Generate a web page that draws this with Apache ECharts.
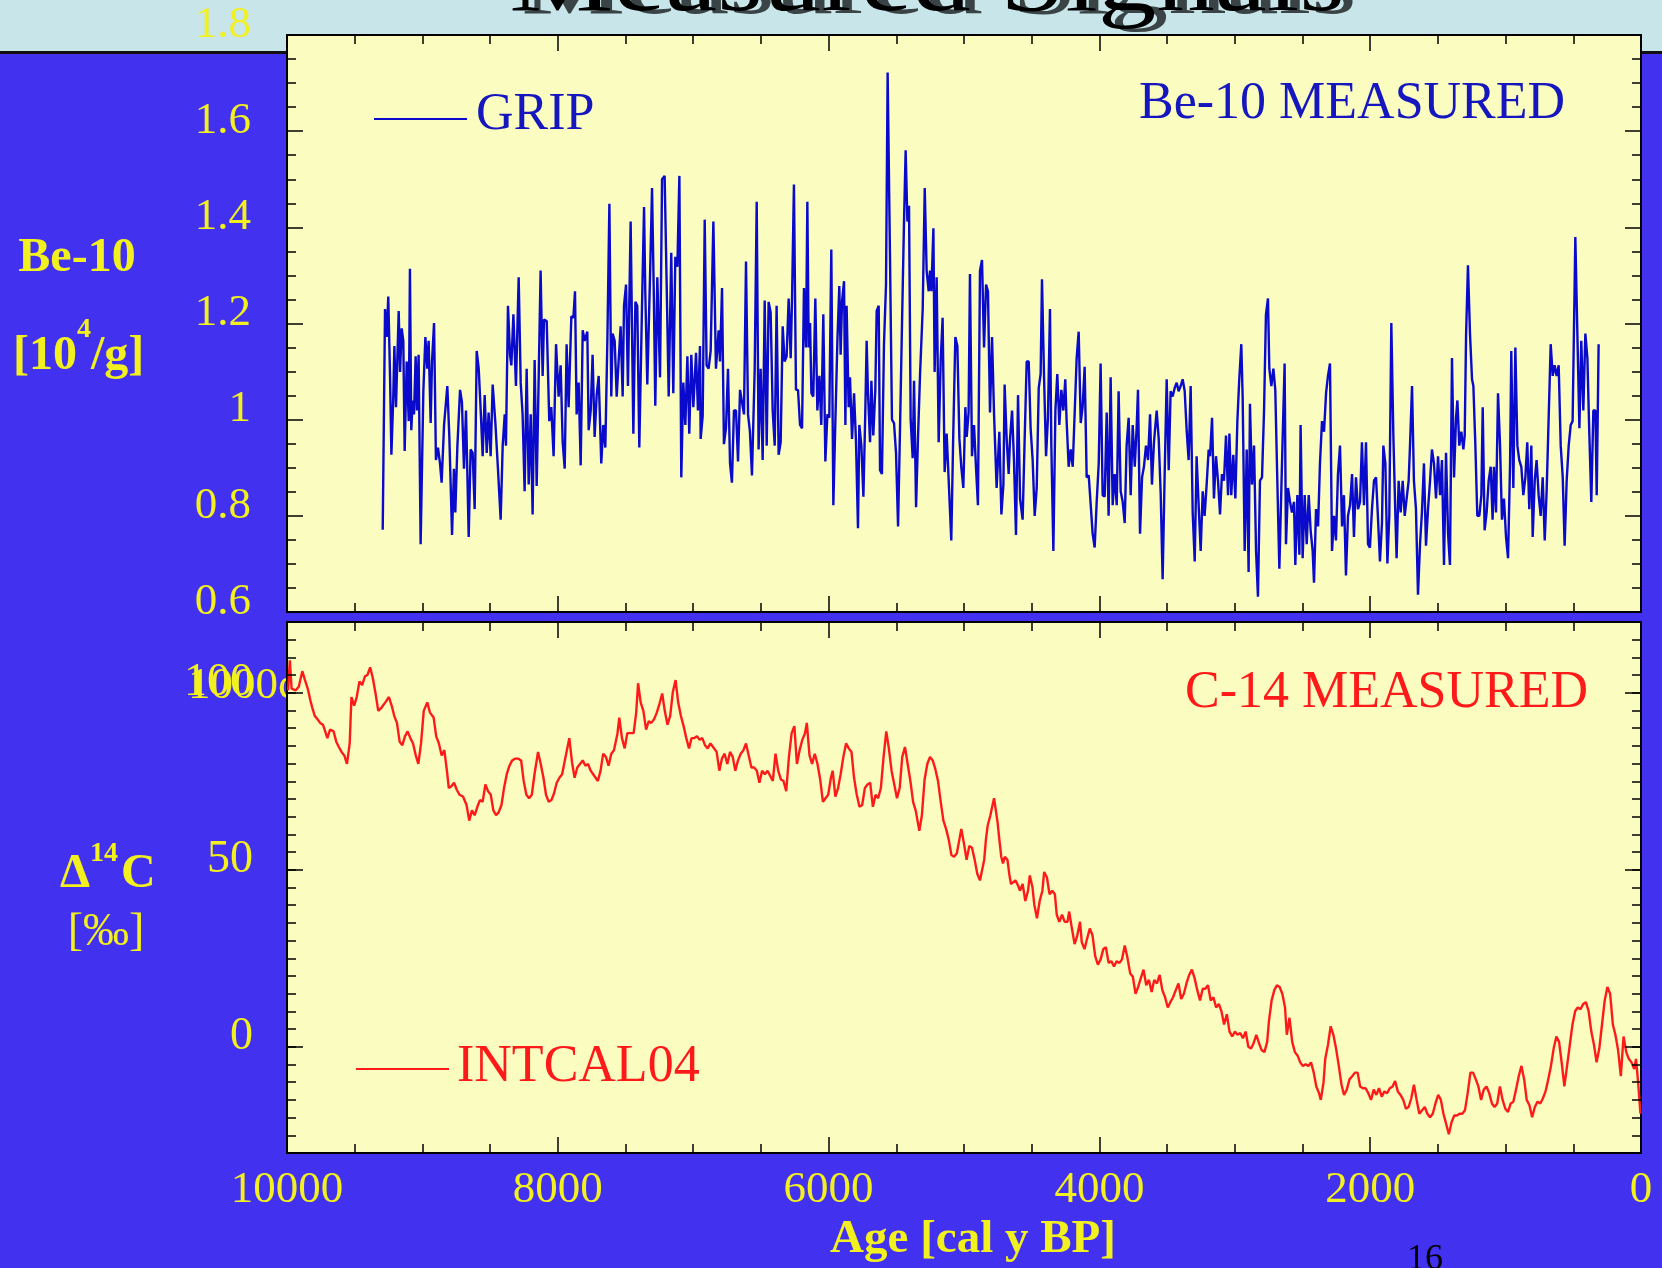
<!DOCTYPE html>
<html><head><meta charset="utf-8">
<script src="https://cdn.jsdelivr.net/npm/echarts@6/dist/echarts.min.js"></script>
<style>html,body{margin:0;padding:0;background:#4232F0;overflow:hidden}#c{width:1662px;height:1268px}</style>
</head><body><div id="c"></div>
<script>
// ---- DATA ----
const xTickValues = [10000, 8000, 6000, 4000, 2000, 0];
const be10Ticks = [0.6, 0.8, 1, 1.2, 1.4, 1.6, 1.8];
const c14Ticks = [0, 50, 100];

// GRIP Be-10 [age BP, 10^4/g]
const be10 = [
[9293,.771],[9276,1.230],[9264,1.172],[9252,1.256],[9239,1.091],[9229,.927],[9215,1.048],[9207,1.153],[9195,1.026],[9175,1.226],
[9165,1.099],[9153,1.190],[9141,1.164],[9131,.935],[9116,1.121],[9101,.997],[9092,1.314],[9082,.978],[9072,1.040],[9062,1.011],
[9050,1.132],[9040,1.019],[9028,1.135],[9013,.741],[8993,1.059],[8978,1.172],[8964,1.106],[8954,1.164],[8939,.993],[8929,1.121],
[8914,1.201],[8900,.916],[8885,.942],[8870,.909],[8858,.869],[8840,.989],[8816,1.070],[8801,.964],[8781,.760],[8767,.898],
[8757,.807],[8742,.942],[8722,1.062],[8708,1.037],[8693,.898],[8678,1.019],[8658,.756],[8644,.938],[8629,.931],[8614,.814],
[8599,1.143],[8584,1.106],[8567,1.004],[8555,.924],[8540,1.051],[8525,.931],[8511,1.015],[8496,.924],[8481,1.073],[8461,.993],
[8442,.898],[8422,.792],[8407,.946],[8392,1.011],[8383,.946],[8368,1.237],[8353,1.135],[8343,1.113],[8328,1.219],[8309,1.070],
[8289,1.296],[8274,1.077],[8260,1.011],[8245,.851],[8230,1.106],[8215,.865],[8200,1.011],[8186,.803],[8171,1.124],[8156,.862],
[8141,1.091],[8127,1.310],[8112,1.091],[8102,1.208],[8082,1.205],[8063,.997],[8048,1.026],[8031,.924],[8013,1.157],[7994,1.048],
[7979,1.113],[7964,.953],[7949,.898],[7935,1.157],[7920,1.026],[7900,1.215],[7885,1.212],[7873,1.267],[7861,1.011],[7846,1.077],
[7831,.905],[7816,1.186],[7802,1.164],[7782,1.183],[7772,.978],[7757,1.019],[7743,1.135],[7728,.964],[7713,1.051],[7698,1.091],
[7679,.909],[7664,.989],[7649,.942],[7634,1.164],[7619,1.449],[7605,1.048],[7595,1.179],[7580,1.164],[7565,1.048],[7551,1.121],
[7536,1.194],[7521,1.048],[7511,1.237],[7496,1.281],[7482,1.070],[7462,1.412],[7442,.971],[7427,1.245],[7413,1.237],[7398,.942],
[7378,1.237],[7363,1.442],[7354,1.267],[7339,1.073],[7319,1.296],[7304,1.482],[7290,1.245],[7280,1.029],[7265,1.296],[7245,1.088],
[7230,1.500],[7211,1.507],[7196,1.281],[7181,1.048],[7162,1.347],[7147,1.055],[7132,1.339],[7117,1.318],[7102,1.507],[7088,.880],
[7073,1.077],[7058,.989],[7043,1.132],[7029,.971],[7014,1.135],[6999,1.026],[6979,1.139],[6965,1.019],[6950,1.153],[6945,.960],
[6930,1.008],[6915,1.416],[6901,1.113],[6886,1.106],[6871,1.143],[6851,1.412],[6832,1.106],[6812,1.186],[6802,1.121],[6787,1.274],
[6773,.949],[6758,.982],[6743,1.106],[6728,.909],[6714,.869],[6699,1.019],[6684,1.019],[6669,.913],[6654,1.062],[6640,1.066],
[6625,1.011],[6610,1.329],[6595,1.011],[6581,.975],[6566,.884],[6556,.884],[6546,1.102],[6531,1.453],[6517,.938],[6502,1.106],
[6487,.916],[6472,1.248],[6457,.946],[6443,1.245],[6428,1.223],[6413,1.019],[6398,.946],[6384,1.237],[6369,.927],[6354,.953],
[6339,1.194],[6325,1.121],[6310,1.132],[6295,1.252],[6280,1.128],[6270,1.252],[6256,1.489],
[6241,1.062],[6226,1.062],[6211,.989],[6196,.982],[6182,1.274],[6167,1.150],[6157,1.453],[6147,1.150],[6137,1.201],[6127,1.055],
[6113,1.048],[6098,1.252],[6083,1.019],[6068,1.091],[6054,.989],[6039,1.219],[6024,.913],[6009,1.011],[5995,1.004],[5980,1.354],
[5965,.822],[5950,.997],[5935,1.164],[5921,1.278],[5911,1.135],[5901,1.245],[5886,1.288],[5876,.989],[5867,1.237],[5852,1.026],
[5842,1.088],[5827,.960],[5812,1.055],[5798,.957],[5783,.774],[5773,.989],[5758,.946],[5743,.840],[5729,1.015],[5719,1.164],
[5709,1.055],[5694,.953],[5684,1.081],[5670,.967],[5655,1.062],[5645,1.226],[5630,1.237],[5620,.895],[5606,.887],[5591,1.157],
[5576,1.281],[5564,1.722],[5546,1.325],[5532,1.000],[5517,.993],[5502,.931],[5487,.778],[5473,.975],[5458,1.197],[5443,1.412],
[5431,1.560],[5418,1.412],[5406,1.445],[5394,1.000],[5379,.920],[5369,1.081],[5354,.818],[5340,.960],[5325,1.091],[5305,1.230],
[5290,1.482],[5276,1.310],[5261,1.267],[5251,1.310],[5241,1.267],[5226,1.398],[5217,1.099],[5202,1.296],[5187,.953],[5172,1.124],
[5158,1.212],[5143,.891],[5128,.971],[5113,.873],[5094,.749],[5079,.975],[5064,1.172],[5049,1.153],[5034,.960],[5020,.902],
[5005,.858],[4990,1.026],[4980,.964],[4966,1.015],[4956,1.303],[4941,.924],[4926,.989],[4911,.898],[4897,.822],[4882,1.310],
[4867,1.332],[4852,1.150],[4837,1.281],[4823,1.267],[4808,1.015],[4793,1.172],[4778,1.011],[4759,.858],[4739,.975],[4724,.803],
[4709,.865],[4700,1.073],[4685,.960],[4670,.887],[4660,.960],[4645,1.019],[4631,.916],[4616,.760],[4601,1.051],[4586,.836],
[4567,.792],[4552,.960],[4537,1.121],[4522,1.121],[4508,.982],[4493,.916],[4478,.800],[4463,.858],[4448,1.066],[4434,1.095],
[4424,1.292],[4409,1.091],[4394,.924],[4380,1.004],[4365,1.230],[4355,.946],[4340,.727],[4325,1.019],[4311,1.095],[4296,.989],
[4281,1.062],[4266,1.019],[4252,1.084],[4242,.997],[4227,.902],[4212,.938],[4197,.902],[4183,1.011],[4168,1.128],[4153,1.183],
[4138,.993],[4124,1.026],[4109,1.110],[4094,.880],[4079,.884],[4064,.822],[4050,.763],[4035,.734],[4020,.829],[4005,.909],
[3991,1.117],[3976,.843],[3961,.840],[3946,1.015],[3932,.800],[3917,1.088],[3902,.822],[3887,.887],[3872,.822],[3858,1.059],
[3843,.851],[3828,.829],[3813,.785],[3799,.946],[3784,1.004],[3769,.843],[3754,.989],[3739,.902],[3725,.982],[3715,1.062],
[3700,.763],[3685,.880],[3671,.902],[3656,.946],[3641,.916],[3626,1.011],[3612,.865],[3597,.953],[3577,1.019],[3562,.960],
[3547,.843],[3533,.668],[3518,.887],[3503,1.084],[3488,.895],[3474,1.059],[3459,1.048],[3444,1.066],[3429,1.077],[3415,1.059],
[3400,1.070],[3385,1.084],[3370,1.059],[3355,.975],[3341,.916],[3326,1.070],[3311,.807],[3296,.705],[3282,.924],[3267,.822],
[3252,.727],[3237,.851],[3223,.800],[3208,.865],[3193,.938],
[3183,.924],[3168,1.004],[3154,.836],[3139,.924],[3124,.873],[3109,.803],[3095,.887],[3080,.873],[3065,.967],[3050,.843],
[3040,.971],[3026,.843],[3011,.927],[2996,.836],[2981,.997],[2967,1.084],[2952,1.157],[2942,1.048],[2927,.727],[2912,.938],
[2898,.683],[2888,1.033],[2873,.865],[2858,.946],[2843,.727],[2829,.632],[2814,.873],[2799,.880],[2784,1.019],[2770,1.219],
[2755,1.252],[2745,1.106],[2730,1.070],[2715,1.106],[2701,1.062],[2686,.873],[2671,.690],[2656,.858],[2642,1.011],[2632,1.117],
[2622,.741],[2607,.858],[2592,.829],[2578,.807],[2563,.829],[2553,.698],[2538,.843],[2523,.719],[2514,.989],[2499,.712],
[2484,.843],[2469,.741],[2454,.843],[2440,.770],[2425,.727],[2415,.661],[2400,.814],[2385,.778],[2371,.909],[2356,.997],
[2341,.975],[2326,1.055],[2312,1.091],[2297,1.117],[2282,.727],[2267,.800],[2253,.749],[2238,.887],[2223,.946],[2208,.778],
[2194,.843],[2179,.676],[2164,.800],[2149,.822],[2134,.887],[2120,.756],[2105,.880],[2090,.814],[2075,.829],[2061,.953],
[2046,.822],[2031,.953],[2016,.741],[2002,.734],[1987,.814],[1972,.873],[1957,.880],[1942,.792],[1928,.705],[1913,.785],
[1903,.946],[1888,.909],[1873,.701],[1859,.800],[1844,1.201],[1829,.967],[1814,.800],[1805,.712],[1790,.873],[1775,.807],
[1760,.873],[1745,.800],[1731,.836],[1716,.873],[1706,.946],[1691,1.070],[1677,.873],[1662,.814],[1647,.636],[1632,.741],
[1618,.807],[1603,.909],[1588,.738],[1573,.814],[1558,.873],[1544,.938],[1529,.909],[1514,.836],[1499,.924],[1484,.843],
[1470,.916],[1455,.698],[1440,.931],[1425,.763],[1411,.698],[1396,1.128],[1381,.880],[1366,1.004],[1356,1.040],[1342,.946],
[1327,.975],[1312,.938],[1302,.967],[1292,1.175],[1278,1.321],[1263,1.179],[1248,1.084],[1238,1.070],[1224,.953],[1209,.800],
[1194,.800],[1179,.843],[1169,1.026],[1155,.770],[1140,.807],[1125,.873],[1110,.902],[1096,.792],[1086,.902],[1071,.807],
[1056,1.055],[1041,.946],[1027,.792],[1012,.836],[997,.756],[982,.712],[967,.909],[958,1.143],[943,.858],[928,1.150],
[913,.946],[899,.916],[884,.902],[869,.843],[854,.880],[840,.953],[825,.814],[810,.946],[800,.756],[785,.873],
[771,.916],[756,.843],[741,.800],[726,.880],[711,.749],[697,.851],[682,1.004],[667,1.157],[652,1.091],[638,1.113],
[623,1.091],[608,1.113],[593,.946],[578,.880],[564,.738],[549,.873],[534,.946],[519,.989],[505,.997],[485,1.380],
[470,1.179],[455,.982],[441,1.164],[426,1.019],[411,1.179],[396,1.128],[382,.975],[367,.829],[352,1.019],[337,1.019],
[327,.843],[313,1.157]
];

// INTCAL04 Delta-14C [age BP, permil]
const c14 = [
[9992,100.7],[9979,109.2],[9966,101.2],[9936,100.7],[9913,101.7],[9887,106.1],[9867,103.6],[9847,101.2],[9827,97.8],[9814,95.9],
[9795,93.5],[9775,92.5],[9755,91.5],[9735,91.0],[9722,89.6],[9702,87.2],[9682,89.6],[9656,89.1],[9636,86.2],[9617,84.7],
[9597,83.3],[9577,82.3],[9557,79.9],[9537,85.7],[9524,98.8],[9504,96.4],[9485,98.8],[9465,103.2],[9445,102.2],[9425,104.6],
[9405,105.1],[9386,107.2],[9366,104.1],[9346,99.8],[9326,94.9],[9300,95.9],[9274,97.3],[9247,98.8],[9227,96.4],[9208,93.5],
[9188,91.5],[9168,86.2],[9148,85.2],[9129,87.7],[9109,89.1],[9089,87.2],[9069,85.7],[9049,82.3],[9030,79.9],[9010,85.7],
[8990,94.9],[8964,97.3],[8944,94.4],[8917,93.0],[8898,87.7],[8878,85.7],[8858,82.3],[8838,83.8],[8819,78.0],[8805,73.1],
[8786,73.6],[8766,74.6],[8746,72.6],[8726,71.2],[8700,70.7],[8674,68.3],[8654,63.9],[8634,66.8],[8614,65.4],[8594,67.8],
[8575,69.7],[8555,69.2],[8535,74.1],[8515,72.2],[8495,71.2],[8476,66.8],[8456,65.4],[8436,66.3],[8416,68.3],[8397,73.1],
[8377,77.0],[8357,79.4],[8337,80.9],[8317,81.4],[8291,81.4],[8271,80.9],[8252,75.1],[8232,71.2],[8212,70.2],[8192,71.2],
[8172,77.0],[8146,83.3],[8126,79.9],[8106,76.0],[8087,71.2],[8067,69.2],[8047,69.7],[8027,71.7],[8008,74.6],[7988,76.0],
[7968,77.0],[7948,80.9],[7928,84.7],[7915,87.2],[7895,80.4],[7876,76.0],[7856,78.9],[7836,79.9],[7816,80.9],[7796,79.4],
[7777,79.9],[7757,78.0],[7730,76.5],[7704,75.1],[7684,78.0],[7665,82.8],[7645,81.9],[7625,79.4],[7605,82.8],[7585,83.8],
[7559,88.6],[7546,93.0],[7526,87.2],[7506,84.3],[7487,88.6],[7460,88.6],[7440,88.6],[7421,94.4],[7407,102.7],[7388,97.3],
[7368,94.9],[7348,89.6],[7328,92.0],[7309,91.5],[7289,92.5],[7269,94.4],[7249,96.9],[7229,99.8],[7210,94.9],[7190,91.0],
[7170,93.5],[7150,100.3],[7130,103.6],[7111,97.3],[7091,93.5],[7071,90.6],[7051,87.2],[7031,84.3],[7012,87.2],[6992,87.2],
[6972,87.7],[6952,86.7],[6933,87.2],[6913,85.2],[6893,84.3],[6873,85.7],[6853,84.7],[6827,83.3],[6807,78.0],[6788,81.4],
[6768,82.8],[6748,79.9],[6728,83.3],[6708,81.9],[6689,78.0],[6669,80.9],[6649,82.8],[6629,83.8],[6610,85.7],[6590,82.3],
[6570,78.9],[6550,78.9],[6530,78.0],[6511,74.6],[6491,78.0],[6471,77.0],[6451,78.0],[6431,76.5],[6412,75.1],[6392,82.8],
[6372,78.0],[6352,75.5],[6333,75.1],[6313,72.2],[6293,81.9],[6273,88.6],[6253,90.6],[6234,79.9],[6214,83.8],[6194,86.7],
[6174,88.6],[6161,91.5],[6141,82.3],[6122,79.9],[6102,82.8],[6082,79.9],[6062,75.5],[6042,69.2],[6023,70.2],[6003,71.2],
[5983,76.0],[5970,78.0],[5950,70.7],[5930,73.1],[5911,77.0],[5891,81.9],[5871,85.7],[5851,84.3],[5831,83.3],[5812,76.0],
[5792,71.2],[5772,67.8],[5752,68.3],[5732,73.1],[5713,74.1],[5693,74.6],[5673,67.8],[5653,71.2],[5634,70.2],[5614,73.1],
[5594,81.9],[5574,89.1],[5555,84.3],[5535,78.0],[5515,74.1],[5495,70.2],[5475,73.1],[5456,81.9],[5436,84.7],[5416,79.9],
[5396,75.1],[5376,69.2],[5357,66.8],[5330,61.0],[5311,65.4],[5291,75.5],[5271,79.9],[5251,81.9],[5231,80.9],[5212,78.5],
[5192,75.1],[5172,69.2],[5152,63.9],[5132,61.5],[5113,58.6],[5093,54.2],[5073,53.7],[5053,54.7],[5034,58.6],[5020,61.5],
[5001,57.6],[4981,52.8],[4961,56.7],[4941,56.2],[4921,52.8],[4902,48.9],[4882,47.0],
[4851,52.8],[4838,58.6],[4825,62.5],[4805,65.4],[4792,67.8],[4778,70.2],[4765,70.7],[4752,63.4],[4739,58.6],[4725,53.7],
[4712,51.8],[4699,53.7],[4679,52.8],[4666,48.9],[4653,46.0],[4639,46.0],[4620,47.0],[4600,45.5],[4587,44.1],[4567,46.0],
[4547,41.2],[4527,44.1],[4514,48.4],[4494,45.0],[4481,40.2],[4461,36.3],[4441,41.2],[4421,44.1],[4408,49.4],[4388,47.9],
[4368,43.1],[4348,44.1],[4329,43.1],[4315,37.3],[4296,35.3],[4276,37.3],[4256,35.3],[4236,35.3],[4223,38.2],[4203,33.4],
[4183,29.0],[4163,31.5],[4143,35.3],[4130,29.5],[4110,27.6],[4091,30.5],[4071,33.4],[4051,31.5],[4031,25.6],[4011,23.2],
[3991,24.7],[3971,27.6],[3952,28.1],[3932,23.7],[3912,24.2],[3892,22.7],[3872,24.2],[3852,23.7],[3833,24.7],[3813,28.6],
[3793,25.2],[3773,20.8],[3753,19.8],[3733,15.0],[3714,16.9],[3694,19.4],[3674,21.8],[3654,17.4],[3634,18.9],[3614,15.5],
[3595,18.9],[3575,17.9],[3555,20.3],[3535,16.0],[3515,14.0],[3495,11.1],[3476,12.6],[3456,14.0],[3436,16.0],[3416,17.9],
[3396,13.5],[3376,15.0],[3357,17.9],[3337,20.3],[3317,21.8],[3297,19.4],[3277,16.0],[3257,13.1],[3237,16.4],[3218,16.4],
[3198,17.4],[3178,13.1],[3158,14.0],[3138,11.1],[3118,12.1],[3099,10.1],[3079,6.3],[3059,9.2],[3039,4.3],[3019,2.9],
[2999,4.3],[2980,3.4],[2960,3.9],[2940,2.4],[2920,4.3],[2900,0.0],[2880,-0.5],[2861,1.0],[2841,3.4],[2821,1.0],
[2801,-1.0],[2781,-1.5],[2761,1.4],[2748,7.2],[2728,13.1],[2708,16.0],[2689,17.4],[2669,16.9],[2649,15.0],[2629,11.1],
[2616,3.4],[2596,8.2],[2576,1.4],[2556,-1.5],[2536,-2.5],[2517,-4.4],[2497,-5.4],[2477,-4.9],[2457,-5.4],[2437,-4.4],
[2417,-7.3],[2398,-11.2],[2378,-13.1],[2365,-15.0],[2345,-10.2],[2332,-3.4],[2312,0.5],[2292,5.8],[2272,3.4],[2252,-0.5],
[2232,-5.4],[2212,-10.7],[2193,-13.6],[2173,-12.1],[2153,-9.2],[2133,-8.3],[2113,-7.3],[2093,-7.3],[2074,-11.2],[2054,-11.7],
[2034,-11.7],[2014,-13.1],[1994,-15.0],[1974,-12.1],[1954,-13.6],[1935,-11.7],[1915,-14.1],[1895,-12.6],[1875,-13.1],[1855,-11.7],
[1835,-11.2],[1816,-9.7],[1796,-12.6],[1776,-13.6],[1756,-15.0],[1736,-17.5],[1716,-17.0],[1697,-14.6],[1677,-10.7],[1657,-15.0],
[1637,-18.9],[1617,-17.9],[1597,-17.0],[1578,-18.9],[1558,-19.9],[1538,-18.9],[1518,-16.0],[1498,-13.6],[1478,-15.0],[1459,-18.9],
[1439,-21.8],[1419,-24.7],[1399,-21.3],[1379,-19.4],[1359,-19.4],[1340,-18.9],[1320,-18.9],[1300,-17.9],[1280,-13.1],[1260,-7.3],
[1240,-7.3],[1220,-9.2],[1201,-11.2],[1181,-15.0],[1161,-12.1],[1141,-11.2],[1121,-13.1],[1101,-16.0],[1082,-17.0],[1062,-16.0],
[1042,-11.2],[1022,-15.0],[1002,-17.5],[982,-18.4],[962,-16.0],[943,-15.5],[923,-12.1],[903,-8.3],[883,-5.4],[863,-9.2],
[844,-15.0],[824,-16.5],[804,-19.9],[784,-17.0],[764,-15.5],[744,-16.0],[725,-14.6],[705,-12.6],[685,-9.2],[665,-5.4],
[645,-0.5],[625,2.9],[605,1.4],[586,-4.4],[566,-11.2],[546,-5.4],[526,0.5],[506,6.3],[486,10.1],[467,11.1],
[447,10.6],[427,12.1],[407,12.6],[387,10.1],[367,4.3],[347,0.5],[328,-4.4],[308,-0.5],[288,6.3],[268,13.1],
[248,16.9],[228,15.0],[208,6.3],[189,3.4],[169,-1.0],[149,-8.3],[129,2.9],[109,-1.5],[90,-3.4],[70,-4.4],
[50,-6.3],[37,-3.4],[23,-9.2],[4,-18.9]
];

// ---- STYLE ----
const SERIF = '"Liberation Serif","Times New Roman",serif';
const YEL = '#F2F01E';
const BLUE = '#0A0ACC';
const RED = '#FF1A1A';
const tickLine = {color: '#000', width: 1.5};
const plain = v => String(v);

function xAx(grid, pos, labels) {
  return {
    gridIndex: grid, type: 'value', min: 0, max: 10000, interval: 2000, inverse: true, position: pos, z: 5,
    axisLine: {show: false, onZero: false},
    axisTick: {show: true, inside: true, length: 16, lineStyle: tickLine},
    minorTick: {show: true, splitNumber: 4, length: 9, lineStyle: tickLine},
    splitLine: {show: false}, minorSplitLine: {show: false},
    axisLabel: labels ? {show: true, color: YEL, fontFamily: SERIF, fontSize: 45, margin: 15,
      customValues: xTickValues, formatter: plain} : {show: false}
  };
}
function yLab(size, margin) {
  return {color: YEL, fontFamily: SERIF, fontSize: size, margin: margin, verticalAlign: 'bottom', lineHeight: 20, formatter: plain};
}

const option = {
  backgroundColor: '#4232F0',
  animation: false,
  grid: [
    {left: 287, top: 35, width: 1354, height: 577, show: true, backgroundColor: '#FBFCC0', borderColor: '#000', borderWidth: 2, z: 2},
    {left: 287, top: 622, width: 1354, height: 531, show: true, backgroundColor: '#FBFCC0', borderColor: '#000', borderWidth: 2, z: 2}
  ],
  xAxis: [xAx(0, 'bottom', false), xAx(0, 'top', false), xAx(1, 'bottom', true), xAx(1, 'top', false)],
  yAxis: [
    {gridIndex: 0, type: 'value', min: 0.6, max: 1.8, interval: 0.2, position: 'left', z: 5,
      axisLine: {show: false, onZero: false}, splitLine: {show: false},
      axisTick: {show: true, inside: true, length: 16, lineStyle: tickLine},
      minorTick: {show: true, splitNumber: 4, length: 9, lineStyle: tickLine},
      axisLabel: Object.assign(yLab(45, 36), {customValues: be10Ticks})},
    {gridIndex: 0, type: 'value', min: 0.6, max: 1.8, interval: 0.2, position: 'right', z: 5,
      axisLine: {show: false, onZero: false}, splitLine: {show: false},
      axisTick: {show: true, inside: true, length: 16, lineStyle: tickLine},
      minorTick: {show: true, splitNumber: 4, length: 9, lineStyle: tickLine},
      axisLabel: {show: false}},
    // bottom panel: minor ticks (every 5)
    {gridIndex: 1, type: 'value', min: -30, max: 120, interval: 5, position: 'left', offset: 0, z: 5,
      axisLine: {show: false, onZero: false}, splitLine: {show: false},
      axisTick: {show: true, inside: true, length: 9, lineStyle: tickLine},
      axisLabel: {show: false}},
    {gridIndex: 1, type: 'value', min: -30, max: 120, interval: 5, position: 'right', offset: 0, z: 5,
      axisLine: {show: false, onZero: false}, splitLine: {show: false},
      axisTick: {show: true, inside: true, length: 9, lineStyle: tickLine},
      axisLabel: {show: false}},
    // bottom panel: major ticks + labels
    {gridIndex: 1, type: 'value', min: -30, max: 120, interval: 5, position: 'left', offset: 0, z: 6,
      axisLine: {show: false, onZero: false}, splitLine: {show: false},
      axisTick: {show: true, inside: true, length: 16, lineStyle: tickLine, customValues: c14Ticks},
      axisLabel: Object.assign(yLab(46, 34), {customValues: c14Ticks})},
    {gridIndex: 1, type: 'value', min: -30, max: 120, interval: 5, position: 'right', offset: 0, z: 6,
      axisLine: {show: false, onZero: false}, splitLine: {show: false},
      axisTick: {show: true, inside: true, length: 16, lineStyle: tickLine, customValues: c14Ticks},
      axisLabel: {show: false}}
  ],
  series: [
    {type: 'line', name: 'GRIP', xAxisIndex: 0, yAxisIndex: 0, data: be10, symbol: 'none', z: 4,
      lineStyle: {color: BLUE, width: 2.4}, silent: true},
    {type: 'line', name: 'INTCAL04', xAxisIndex: 2, yAxisIndex: 2, data: c14, symbol: 'none', z: 4,
      lineStyle: {color: RED, width: 2.4}, silent: true}
  ],
  graphic: [
    // title banner
    {type: 'rect', z: 0, shape: {x: 0, y: 0, width: 1662, height: 51}, style: {fill: '#C8E6EA'}},
    {type: 'rect', z: 0, shape: {x: 0, y: 51, width: 1662, height: 3}, style: {fill: '#111'}},
    {type: 'text', z: 10, x: 939, y: -10, scaleX: 1.33,
      style: {text: 'Measured Signals', fontFamily: SERIF, fontSize: 88, fill: '#3A4446', align: 'center', verticalAlign: 'middle'}},
    {type: 'text', z: 11, x: 927, y: -13, scaleX: 1.33,
      style: {text: 'Measured Signals', fontFamily: SERIF, fontSize: 88, fill: '#000', align: 'center', verticalAlign: 'middle'}},
    // overlapping junk label near 100
    {type: 'text', z: 0, x: 188, y: 686,
      style: {text: '1000c', fontFamily: SERIF, fontSize: 45, fill: YEL, align: 'left', verticalAlign: 'middle'}},
    // y titles
    {type: 'text', z: 10, x: 77, y: 259,
      style: {text: 'Be-10', fontFamily: SERIF, fontWeight: 'bold', fontSize: 48, fill: YEL, align: 'center', verticalAlign: 'middle'}},
    {type: 'text', z: 10, x: 13, y: 357,
      style: {text: '[10', fontFamily: SERIF, fontWeight: 'bold', fontSize: 48, fill: YEL, align: 'left', verticalAlign: 'middle'}},
    {type: 'text', z: 10, x: 77, y: 330,
      style: {text: '4', fontFamily: SERIF, fontWeight: 'bold', fontSize: 28, fill: YEL, align: 'left', verticalAlign: 'middle'}},
    {type: 'text', z: 10, x: 91, y: 357,
      style: {text: '/g]', fontFamily: SERIF, fontWeight: 'bold', fontSize: 48, fill: YEL, align: 'left', verticalAlign: 'middle'}},
    {type: 'text', z: 10, x: 60, y: 875,
      style: {text: '\u0394', fontFamily: SERIF, fontWeight: 'bold', fontSize: 48, fill: YEL, align: 'left', verticalAlign: 'middle'}},
    {type: 'text', z: 10, x: 90, y: 854,
      style: {text: '14', fontFamily: SERIF, fontWeight: 'bold', fontSize: 28, fill: YEL, align: 'left', verticalAlign: 'middle'}},
    {type: 'text', z: 10, x: 121, y: 875,
      style: {text: 'C', fontFamily: SERIF, fontWeight: 'bold', fontSize: 48, fill: YEL, align: 'left', verticalAlign: 'middle'}},
    {type: 'text', z: 10, x: 106, y: 933,
      style: {text: '[\u2030]', fontFamily: SERIF, fontSize: 46, fill: YEL, align: 'center', verticalAlign: 'middle'}},
    // x title
    {type: 'text', z: 10, x: 973, y: 1240,
      style: {text: 'Age [cal y BP]', fontFamily: SERIF, fontWeight: 'bold', fontSize: 47, fill: YEL, align: 'center', verticalAlign: 'middle'}},
    // slide number
    {type: 'text', z: 10, x: 1425, y: 1260,
      style: {text: '16', fontFamily: SERIF, fontSize: 36, fill: '#000', align: 'center', verticalAlign: 'middle'}},
    // legends & panel labels
    {type: 'line', z: 10, shape: {x1: 374, y1: 119, x2: 467, y2: 119}, style: {stroke: BLUE, lineWidth: 2}},
    {type: 'text', z: 10, x: 476, y: 115,
      style: {text: 'GRIP', fontFamily: SERIF, fontSize: 52, fill: '#1616BE', align: 'left', verticalAlign: 'middle'}},
    {type: 'text', z: 10, x: 1139, y: 104,
      style: {text: 'Be-10 MEASURED', fontFamily: SERIF, fontSize: 52, fill: '#1616BE', align: 'left', verticalAlign: 'middle'}},
    {type: 'text', z: 10, x: 1185, y: 693,
      style: {text: 'C-14 MEASURED', fontFamily: SERIF, fontSize: 52, fill: RED, align: 'left', verticalAlign: 'middle'}},
    {type: 'line', z: 10, shape: {x1: 356, y1: 1069, x2: 449, y2: 1069}, style: {stroke: RED, lineWidth: 2}},
    {type: 'text', z: 10, x: 457, y: 1067,
      style: {text: 'INTCAL04', fontFamily: SERIF, fontSize: 52, fill: RED, align: 'left', verticalAlign: 'middle'}}
  ]
};

const chart = echarts.init(document.getElementById('c'), null, {renderer: 'canvas', width: 1662, height: 1268});
chart.setOption(option);
</script>
</body></html>
